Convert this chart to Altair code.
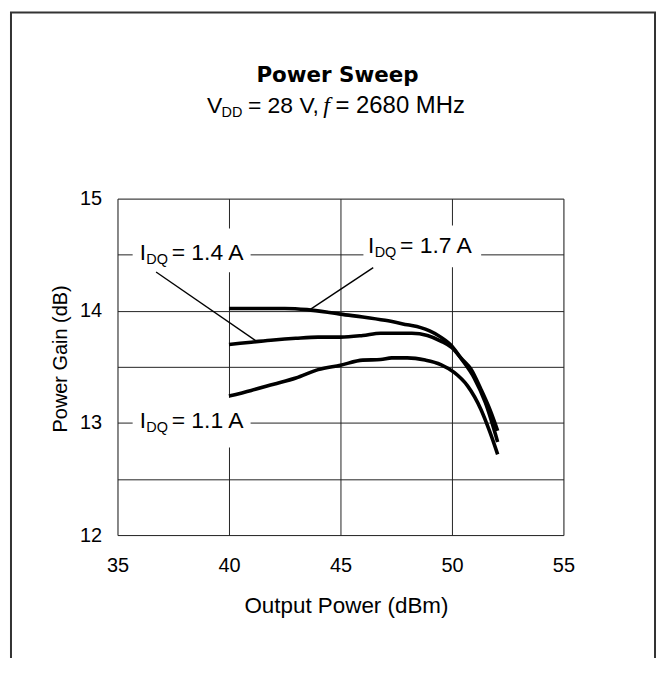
import altair as alt
import pandas as pd

# ---- data ----
x_17 = [40, 41, 42, 42.5, 43.5, 44.5, 45, 46, 47, 48, 48.6, 49, 49.5, 50, 50.4, 50.85, 51.3, 51.7, 52.05]
y_17 = [14.02, 14.02, 14.02, 14.02, 14.01, 13.985, 13.97, 13.945, 13.915, 13.875, 13.85, 13.82, 13.765, 13.685, 13.58, 13.48, 13.30, 13.12, 12.93]

x_14 = [40, 41, 42, 43, 44, 45, 46, 46.8, 47.5, 48.2, 48.9, 49.5, 50, 50.5, 51, 51.5, 52.05]
y_14 = [13.70, 13.72, 13.74, 13.755, 13.765, 13.765, 13.78, 13.80, 13.80, 13.80, 13.78, 13.73, 13.67, 13.55, 13.40, 13.18, 12.83]

x_11 = [40, 41, 42, 43, 44, 45, 46, 46.8, 47.3, 48, 48.8, 49.5, 50.1, 50.7, 51.3, 51.7, 52.05]
y_11 = [13.24, 13.29, 13.345, 13.40, 13.475, 13.515, 13.56, 13.565, 13.58, 13.58, 13.56, 13.52, 13.45, 13.33, 13.12, 12.92, 12.72]

x_ticks = [35, 40, 45, 50, 55]
y_grid = [12, 12.5, 13, 13.5, 14, 14.5, 15]

# annotation labels (data units)
label_x = [36.0, 36.0, 46.24]
label_y = [14.456, 12.956, 14.518]
label_rest = ["= 1.4 A", "= 1.1 A", "= 1.7 A"]

# white boxes behind labels (data units)
box_x1 = [35.68, 35.68, 46.03]
box_x2 = [40.97, 40.97, 51.31]
box_y1 = [14.734, 13.225, 14.76]
box_y2 = [14.343, 12.781, 14.388]

# leader lines (data units)
lead_x1 = [36.73, 46.47]
lead_y1 = [14.346, 14.385]
lead_x2 = [41.26, 43.65]
lead_y2 = [13.725, 14.012]

rows = []
for name, xs, ys in [("1.7 A", x_17, y_17), ("1.4 A", x_14, y_14), ("1.1 A", x_11, y_11)]:
    for a, b in zip(xs, ys):
        rows.append({"series": name, "x": a, "y": b})
curves = pd.DataFrame(rows)
labels = pd.DataFrame({"x": label_x, "y": label_y, "rest": label_rest})
boxes = pd.DataFrame({"x": box_x1, "x2": box_x2, "y": box_y1, "y2": box_y2})
leads = pd.DataFrame({"x": lead_x1, "y": lead_y1, "x2": lead_x2, "y2": lead_y2})
dummy = pd.DataFrame({"a": [0]})

SANS = "Liberation Sans"
xs = alt.Scale(domain=[35, 55], nice=False, zero=False)
ys = alt.Scale(domain=[12, 15], nice=False, zero=False)

xaxis = alt.Axis(values=x_ticks, format="d", title="Output Power (dBm)", grid=True,
                 ticks=False, tickSize=0, domain=False, labelFont=SANS, labelFontSize=20,
                 labelColor="black", labelPadding=21, labelFlush=False, labelOverlap=False,
                 titleFont=SANS, titleFontSize=22.5, titleFontWeight="normal", titleColor="black",
                 titleX=229.5, titleY=77.3, titleBaseline="alphabetic", titleAlign="center",
                 gridColor="#222222", gridWidth=1)
yaxis = alt.Axis(values=y_grid, labelExpr="datum.value % 1 == 0 ? format(datum.value, 'd') : ''",
                 title="Power Gain (dB)", grid=True, ticks=False, tickSize=0, domain=False,
                 labelFont=SANS, labelFontSize=20, labelColor="black", labelPadding=16,
                 labelFlush=False, labelOverlap=False,
                 titleFont=SANS, titleFontSize=20, titleFontWeight="normal", titleColor="black",
                 titleX=-51.3, titleY=160.5, titleAngle=270, titleBaseline="alphabetic",
                 titleAlign="center", gridColor="#222222", gridWidth=1)

X = lambda f: alt.X(f, type="quantitative", scale=xs, axis=xaxis)
Y = lambda f: alt.Y(f, type="quantitative", scale=ys, axis=yaxis)

box_layer = alt.Chart(boxes).mark_rect(fill="white", stroke=None).encode(
    x=X("x"), x2="x2", y=Y("y"), y2="y2")

lead_layer = alt.Chart(leads).mark_rule(color="black", strokeWidth=1.4).encode(
    x=X("x"), x2="x2", y=Y("y"), y2="y2")

line_layer = alt.Chart(curves).mark_line(color="black", strokeWidth=3.6, interpolate="monotone").encode(
    x=X("x"), y=Y("y"), detail="series:N")

lab_i = alt.Chart(labels).mark_text(text="I", align="left", baseline="alphabetic",
                                    font=SANS, fontSize=22.5, color="black").encode(x=X("x"), y=Y("y"))
lab_sub = alt.Chart(labels).mark_text(text="DQ", align="left", baseline="alphabetic", dx=6.6, dy=4.5,
                                      font=SANS, fontSize=14.5, color="black").encode(x=X("x"), y=Y("y"))
lab_rest = alt.Chart(labels).mark_text(align="left", baseline="alphabetic", dx=32,
                                       font=SANS, fontSize=23, color="black").encode(
    x=X("x"), y=Y("y"), text="rest:N")

# outer frame and title block (layout, pixel positions relative to plot origin)
frame = alt.Chart(dummy).mark_rect(filled=False, stroke="#333333", strokeWidth=2, clip=False).encode(
    x=alt.value(-107), x2=alt.value(540), y=alt.value(-187), y2=alt.value(480))

title = alt.Chart(dummy).mark_text(text="Power Sweep", align="center", baseline="alphabetic",
                                   font="DejaVu Sans", fontWeight="bold", fontSize=21.5,
                                   color="black").encode(x=alt.value(221), y=alt.value(-117))
sub_v = alt.Chart(dummy).mark_text(text="V", align="left", baseline="alphabetic", font=SANS,
                                   fontSize=23, color="black").encode(x=alt.value(90), y=alt.value(-86))
sub_dd = alt.Chart(dummy).mark_text(text="DD", align="left", baseline="alphabetic", font=SANS,
                                    fontSize=14.5, color="black").encode(x=alt.value(104.5), y=alt.value(-81.5))
sub_a = alt.Chart(dummy).mark_text(text="= 28 V,", align="left", baseline="alphabetic", font=SANS,
                                   fontSize=23, color="black").encode(x=alt.value(131), y=alt.value(-86))
sub_f = alt.Chart(dummy).mark_text(text="f", align="center", baseline="alphabetic", font="Liberation Serif",
                                   fontStyle="italic", fontSize=24, color="black").encode(
    x=alt.value(210), y=alt.value(-86))
sub_b = alt.Chart(dummy).mark_text(text="= 2680 MHz", align="left", baseline="alphabetic", font=SANS,
                                   fontSize=24, color="black").encode(x=alt.value(219), y=alt.value(-86))

chart = alt.layer(
    box_layer, lead_layer, line_layer, lab_i, lab_sub, lab_rest,
    frame, title, sub_v, sub_dd, sub_a, sub_f, sub_b
).properties(
    width=448, height=338,
    autosize=alt.AutoSizeParams(type="none"),
    padding={"left": 110, "top": 190, "right": 94, "bottom": 122},
).configure_view(stroke="black", strokeWidth=2).configure(background="white")

chart.save("out.html", embed_options={"renderer": "svg", "actions": False})
